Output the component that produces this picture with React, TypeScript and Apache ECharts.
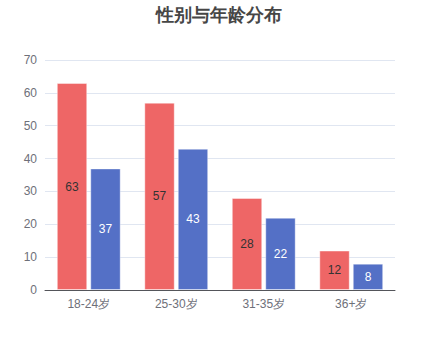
import React, { useEffect, useRef } from "react";
import * as echarts from "echarts";

const categories = ["18-24岁", "25-30岁", "31-35岁", "36+岁"];
const maleValues = [63, 57, 28, 12];
const femaleValues = [37, 43, 22, 8];
const seriesNames = ["男", "女"];

export default function App() {
  const ref = useRef<HTMLDivElement>(null);
  useEffect(() => {
    document.body.style.margin = "0";
    if (!ref.current) return;
    const chart = echarts.init(ref.current, undefined, { renderer: "svg" });
    chart.setOption({
      animation: false,
      title: {
        text: "性别与年龄分布",
        left: "center",
        top: 1,
        textStyle: { fontSize: 18, fontWeight: "bold", color: "#464646" },
      },
      grid: { left: 45, right: 43, top: 60, bottom: 70 },
      xAxis: {
        type: "category",
        data: categories,
        axisLabel: { color: "#6e7079", fontSize: 12 },
      },
      yAxis: {
        type: "value",
        min: 0,
        max: 70,
        interval: 10,
        axisLabel: { color: "#6e7079", fontSize: 12 },
        splitLine: { lineStyle: { color: "#e0e6f1" } },
      },
      series: [
        {
          name: seriesNames[0],
          type: "bar",
          data: maleValues,
          itemStyle: { color: "#ee6666", borderColor: "rgba(255,255,255,0.4)", borderWidth: 1 },
          label: { show: true, position: "inside", color: "#333", fontSize: 12 },
        },
        {
          name: seriesNames[1],
          type: "bar",
          data: femaleValues,
          itemStyle: { color: "#5470c6", borderColor: "rgba(255,255,255,0.4)", borderWidth: 1 },
          label: { show: true, position: "inside", color: "#fff", fontSize: 12 },
        },
      ],
    });
    return () => chart.dispose();
  }, []);
  return <div ref={ref} style={{ width: 438, height: 360 }} />;
}
